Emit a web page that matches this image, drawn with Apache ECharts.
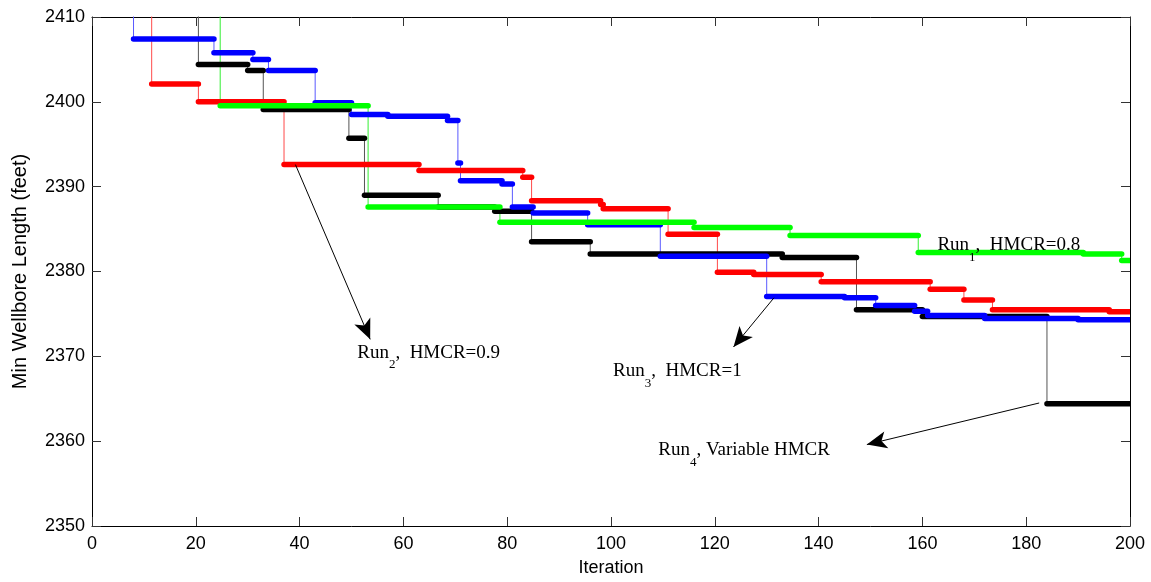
<!DOCTYPE html>
<html>
<head>
<meta charset="utf-8">
<script src="https://cdn.jsdelivr.net/npm/echarts@6/dist/echarts.min.js"></script>
<style>html,body{margin:0;padding:0;background:#fff}#c{width:1151px;height:582px}</style>
</head>
<body>
<div id="c"></div>
<script>
// ---- tick labels ----
const xTickLabels = [0, 20, 40, 60, 80, 100, 120, 140, 160, 180, 200];
const yTickLabels = [2350, 2360, 2370, 2380, 2390, 2400, 2410];

// ---- series: iteration at which each new best value appears, and that value ----
// Run 1 (HMCR=0.8) green
const run1Iter  = [1, 24.7, 53.2, 78.6, 116, 134.5, 159.2, 191, 198.4];
const run1Value = [2420, 2399.55, 2387.6, 2385.8, 2385.2, 2384.25, 2382.25, 2382.05, 2381.3];
// Run 2 (HMCR=0.9) red
const run2Iter  = [1, 11.5, 20.5, 37, 63, 83, 84.7, 98, 98.5, 111, 120.5, 127.5, 140.5, 161.5, 168, 173.5, 196];
const run2Value = [2420, 2402.1, 2400.0, 2392.6, 2391.9, 2391.1, 2388.35, 2387.9, 2387.4, 2384.4, 2379.9, 2379.65, 2378.8, 2377.9, 2376.65, 2375.5, 2375.25];
// Run 3 (HMCR=1) blue
const run3Iter  = [1, 8, 23.5, 31, 34, 43, 50, 57, 68.5, 70.5, 71, 79, 81, 85, 95.5, 109.5, 130, 145, 151, 158.5, 161, 172, 190];
const run3Value = [2420, 2407.4, 2405.8, 2405.0, 2403.7, 2399.9, 2398.5, 2398.3, 2397.8, 2392.8, 2390.7, 2390.3, 2387.6, 2386.9, 2385.5, 2381.8, 2377.05, 2376.9, 2376.0, 2375.3, 2374.8, 2374.45, 2374.3];
// Run 4 (variable HMCR) black
const run4Iter  = [1, 20.5, 30, 33, 49.5, 52.5, 66.7, 77.6, 84.7, 96, 133, 147.3, 160, 184];
const run4Value = [2420, 2404.4, 2403.7, 2399.1, 2395.7, 2389.0, 2387.6, 2387.1, 2383.5, 2382.05, 2381.65, 2375.5, 2374.7, 2364.4];

// ---- annotations ----
const labelRun    = ['1', '2', '3', '4'];
const labelRest   = [',  HMCR=0.8', ',  HMCR=0.9', ',  HMCR=1', ', Variable HMCR'];
const labelAt     = [[162.9, 2383.1], [51.1, 2370.45], [100.4, 2368.3], [109.1, 2358.9]];
const arrowFrom   = [[39.2, 2392.6], [131.4, 2376.9], [182.5, 2364.5]];
const arrowTo     = [[53.6, 2372.0], [123.6, 2371.1], [149.3, 2359.6]];

const xMin = xTickLabels[0], xMax = xTickLabels[xTickLabels.length - 1];
const yMin = yTickLabels[0], yMax = yTickLabels[yTickLabels.length - 1];
const xStep = xTickLabels[1] - xTickLabels[0];
const yStep = yTickLabels[1] - yTickLabels[0];

function stepPoints(iter, val) {
  const pts = iter.map((x, i) => [x, val[i]]);
  pts.push([xMax, val[val.length - 1]]);
  return pts;
}
function segments(iter, val) {
  return iter.map((x, i) => [x, i + 1 < iter.length ? iter[i + 1] : xMax, val[i]]);
}
function segRender(color) {
  return function (params, api) {
    const p1 = api.coord([api.value(0), api.value(2)]);
    const p2 = api.coord([api.value(1), api.value(2)]);
    return {
      type: 'line',
      shape: { x1: p1[0], y1: p1[1], x2: p2[0], y2: p2[1] },
      style: { stroke: color, lineWidth: 5.5, lineCap: 'round' }
    };
  };
}

const runs = [
  { name: 'Run4', iter: run4Iter, val: run4Value, color: '#000000', thin: '#555555' },
  { name: 'Run3', iter: run3Iter, val: run3Value, color: '#0000ff', thin: '#5a5aff' },
  { name: 'Run2', iter: run2Iter, val: run2Value, color: '#ff0000', thin: '#ff4a4a' },
  { name: 'Run1', iter: run1Iter, val: run1Value, color: '#00ff00', thin: '#33ee33' }
];

const serif = 'Liberation Serif';
const rich = {
  n: { fontFamily: serif, fontSize: 19, color: '#000', lineHeight: 38, verticalAlign: 'middle' },
  s: { fontFamily: serif, fontSize: 13, color: '#000', lineHeight: 38, verticalAlign: 'bottom' }
};

const series = [];
runs.forEach(r => {
  series.push({
    name: r.name + ' step', type: 'line', step: 'end', data: stepPoints(r.iter, r.val),
    showSymbol: false, lineStyle: { color: r.thin, width: 1 }, clip: true, animation: false, silent: true, z: 2
  });
});
runs.forEach(r => {
  series.push({
    name: r.name, type: 'custom', coordinateSystem: 'cartesian2d',
    data: segments(r.iter, r.val), encode: { x: [0, 1], y: 2 },
    renderItem: segRender(r.color), clip: true, animation: false, silent: true, z: 3
  });
});

// annotation carrier series
series.push({
  type: 'line', data: [], silent: true, animation: false, z: 5,
  markLine: {
    silent: true, animation: false,
    symbol: ['none', 'arrow'], symbolSize: [13, 20],
    lineStyle: { color: '#000', width: 1, type: 'solid' },
    label: { show: false },
    data: arrowFrom.map((a, i) => [{ coord: a }, { coord: arrowTo[i] }])
  },
  markPoint: {
    silent: true, animation: false,
    symbol: 'circle', symbolSize: 0,
    data: labelAt.map((c, i) => ({
      coord: c,
      label: {
        show: true, position: 'right', distance: 0,
        formatter: '{n|Run}{s|' + labelRun[i] + '}{n|' + labelRest[i] + '}',
        rich: rich
      }
    }))
  }
});

const axisFont = { fontFamily: 'Liberation Sans', fontSize: 18, color: '#000' };
const plain = v => String(v);
const chart = echarts.init(document.getElementById('c'), null, { renderer: 'canvas' });
chart.setOption({
  backgroundColor: '#fff',
  animation: false,
  grid: { left: 92, right: 21, top: 17, bottom: 56, containLabel: false },
  xAxis: [
    {
      type: 'value', min: xMin, max: xMax, interval: xStep, position: 'bottom',
      name: 'Iteration', nameLocation: 'middle', nameGap: 33, nameTextStyle: axisFont,
      axisLine: { show: true, onZero: false, lineStyle: { color: '#000', width: 1 } },
      axisTick: { show: true, inside: true, length: 9, lineStyle: { color: '#333' } },
      axisLabel: Object.assign({ margin: 9, formatter: plain }, axisFont),
      splitLine: { show: false }
    },
    {
      type: 'value', min: xMin, max: xMax, interval: xStep, position: 'top',
      axisLine: { show: true, onZero: false, lineStyle: { color: '#000', width: 1 } },
      axisTick: { show: true, inside: true, length: 9, lineStyle: { color: '#333' } },
      axisLabel: { show: false }, splitLine: { show: false }
    }
  ],
  yAxis: [
    {
      type: 'value', min: yMin, max: yMax, interval: yStep, position: 'left',
      name: 'Min Wellbore Length (feet)', nameLocation: 'middle', nameGap: 62, nameRotate: 90,
      nameTextStyle: { fontFamily: 'Liberation Sans', fontSize: 20, color: '#000' },
      axisLine: { show: true, onZero: false, lineStyle: { color: '#000', width: 1 } },
      axisTick: { show: true, inside: true, length: 9, lineStyle: { color: '#333' } },
      axisLabel: Object.assign({ margin: 7, formatter: plain }, axisFont),
      splitLine: { show: false }
    },
    {
      type: 'value', min: yMin, max: yMax, interval: yStep, position: 'right',
      axisLine: { show: true, onZero: false, lineStyle: { color: '#000', width: 1 } },
      axisTick: { show: true, inside: true, length: 9, lineStyle: { color: '#333' } },
      axisLabel: { show: false }, splitLine: { show: false }
    }
  ],
  series: series
});
</script>
</body>
</html>
